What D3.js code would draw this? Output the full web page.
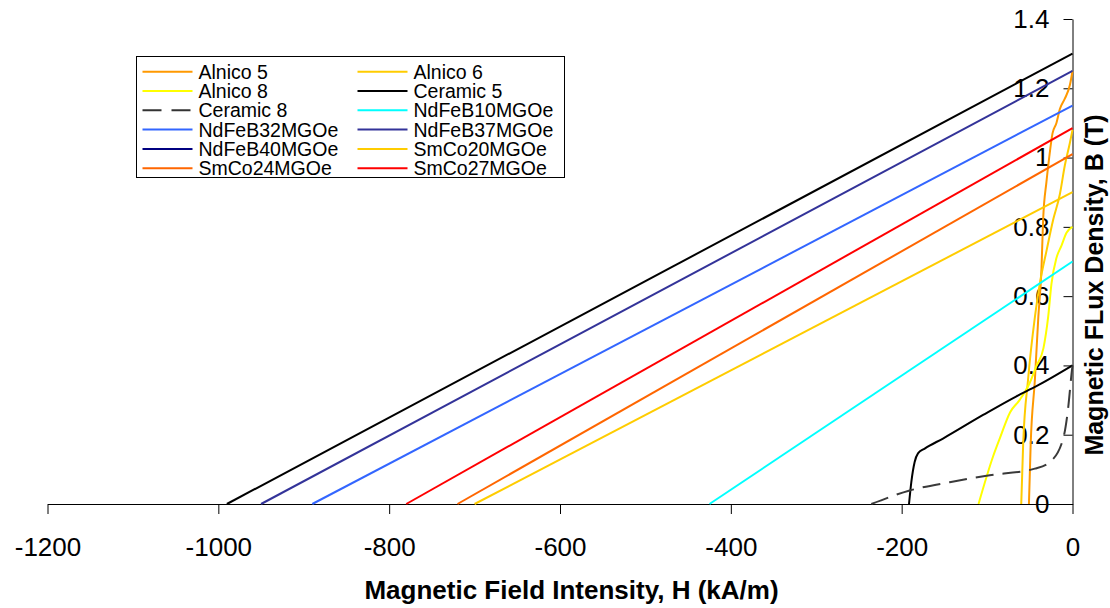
<!DOCTYPE html>
<html>
<head>
<meta charset="utf-8">
<script src="https://cdn.jsdelivr.net/npm/d3@7"></script>
<style>
    body { margin: 0; background: white; }
    svg { display: block; font-family: Arial, "Liberation Sans", sans-serif; }
</style>
</head>
<body>
<svg id="chart" width="1110" height="608"></svg>
<script>
// series names, in legend / drawing order
var seriesNames = ["Alnico 5", "Alnico 6", "Alnico 8", "Ceramic 5", "Ceramic 8", "NdFeB10MGOe",
    "NdFeB32MGOe", "NdFeB37MGOe", "NdFeB40MGOe", "SmCo20MGOe", "SmCo24MGOe", "SmCo27MGOe"];
var legendColors = ["#FF9900", "#FFCC00", "#FFFF00", "#000000", "#333333", "#00FFFF",
    "#3366FF", "#333399", "#000080", "#FFCC00", "#FF6600", "#FF0000"];
var lineColors = ["#FF9900", "#FFCC00", "#FFFF00", "#000000", "#3a3a3a", "#00FFFF",
    "#3366FF", "#333399", "#000000", "#FFCC00", "#FF6600", "#FF0000"];
var dashed = [false, false, false, false, true, false, false, false, false, false, false, false];

// demagnetisation curves, [H (kA/m), B (T)]
var alnico5 = [[-51, 0], [-49, 0.17], [-44, 0.36], [-40, 0.54], [-36.3, 0.68], [-34.4, 0.82], [-30.5, 0.93],
    [-27.3, 1.0], [-23.4, 1.07], [-18.8, 1.1], [-14.8, 1.14], [-9, 1.17], [-3, 1.21], [0, 1.25]];
var alnico6 = [[-60, 0], [-57.8, 0.17], [-52, 0.36], [-44, 0.54], [-38.3, 0.636], [-30.5, 0.73], [-22.7, 0.82],
    [-14.8, 0.894], [-9, 0.977], [-3.1, 1.042], [0, 1.08]];
var alnico8 = [[-110, 0], [-93, 0.137], [-85, 0.19], [-73, 0.265], [-62, 0.3], [-50, 0.35], [-42, 0.4],
    [-34, 0.45], [-28.5, 0.54], [-24.6, 0.636], [-18.8, 0.71], [-12.9, 0.746], [-7, 0.783], [0, 0.8]];
var ceramic5 = [[-191.4, 0], [-188.7, 0.063], [-184.8, 0.121], [-180.9, 0.146], [-173, 0.16], [-151.6, 0.189],
    [-104.7, 0.257], [-65.6, 0.311], [-42.2, 0.34], [0, 0.4]];
var ceramic8 = [[-235.5, 0], [-190.6, 0.039], [-143.8, 0.063], [-96.9, 0.083], [-44.1, 0.102], [-26.6, 0.121],
    [-10.9, 0.189], [-5.1, 0.277], [-1.2, 0.374], [0, 0.4]];
var ndfeb10 = [[-425, 0], [0, 0.7]];
var ndfeb32 = [[-890, 0], [0, 1.15]];
var ndfeb37 = [[-950, 0], [0, 1.25]];
var ndfeb40 = [[-990, 0], [0, 1.3]];
var smco20 = [[-700, 0], [0, 0.9]];
var smco24 = [[-720, 0], [0, 1.01]];
var smco27 = [[-780, 0], [0, 1.085]];

var seriesData = [alnico5, alnico6, alnico8, ceramic5, ceramic8, ndfeb10,
    ndfeb32, ndfeb37, ndfeb40, smco20, smco24, smco27];

var xTicks = [-1200, -1000, -800, -600, -400, -200, 0];
var yTicks = [0, 0.2, 0.4, 0.6, 0.8, 1, 1.2, 1.4];

var svg = d3.select("#chart");

var x = d3.scaleLinear().domain([-1200, 0]).range([47.5, 1072.5]);
var y = d3.scaleLinear().domain([0, 1.4]).range([504, 19]);

// plain hyphen minus like the original, not d3's unicode minus
function plainNum(d) { return String(+d.toFixed(1)); }

// x axis (ticks down, labels below)
var xAxis = svg.append("g")
    .attr("transform", "translate(0,504)")
    .call(d3.axisBottom(x).tickValues(xTicks).tickSize(10).tickSizeOuter(0).tickPadding(24)
        .tickFormat(plainNum));
xAxis.select(".domain").attr("stroke", "#000");
xAxis.selectAll(".tick line").attr("stroke", "#000");
xAxis.selectAll("text").attr("font-size", 26).attr("fill", "#000")
    .attr("font-family", "Arial, 'Liberation Sans', sans-serif");

// y axis sits at H = 0, ticks point left into the plot
var yAxis = svg.append("g")
    .attr("transform", "translate(1072.5,0)")
    .call(d3.axisLeft(y).tickValues(yTicks).tickSize(9).tickSizeOuter(0).tickPadding(14)
        .tickFormat(plainNum));
yAxis.select(".domain").attr("stroke", "#000");
yAxis.selectAll(".tick line").attr("stroke", "#000");
yAxis.selectAll("text").attr("font-size", 26).attr("fill", "#000")
    .attr("font-family", "Arial, 'Liberation Sans', sans-serif");

// the curves (smoothed like excel's scatter lines)
var line = d3.line()
    .curve(d3.curveMonotoneX)
    .x(function (d) { return x(d[0]); })
    .y(function (d) { return y(d[1]); });

svg.append("g").selectAll("path")
    .data(seriesData)
    .enter().append("path")
    .attr("d", line)
    .attr("fill", "none")
    .attr("stroke", function (d, i) { return lineColors[i]; })
    .attr("stroke-width", 2)
    .attr("stroke-dasharray", function (d, i) { return dashed[i] ? "18,9" : null; })
    .attr("stroke-linejoin", "round");

// axis titles
svg.append("text")
    .attr("x", 571.5)
    .attr("y", 599)
    .attr("text-anchor", "middle")
    .attr("font-size", 26)
    .attr("font-weight", "bold")
    .text("Magnetic Field Intensity, H (kA/m)");

svg.append("text")
    .attr("transform", "translate(1103,285) rotate(-90)")
    .attr("text-anchor", "middle")
    .attr("font-size", 25)
    .attr("font-weight", "bold")
    .text("Magnetic FLux Density, B (T)");

// legend, two columns
var legend = svg.append("g");
legend.append("rect")
    .attr("x", 136.5).attr("y", 56.5)
    .attr("width", 428).attr("height", 121)
    .attr("fill", "white").attr("stroke", "#000").attr("stroke-width", 1);

var items = legend.selectAll("g.item")
    .data(seriesNames)
    .enter().append("g")
    .attr("class", "item")
    .attr("transform", function (d, i) {
        return "translate(" + (142.5 + (i % 2) * 215) + "," + (71.7 + Math.floor(i / 2) * 19.3) + ")";
    });

items.append("line")
    .attr("x1", 0).attr("x2", 50)
    .attr("y1", 0).attr("y2", 0)
    .attr("stroke", function (d, i) { return legendColors[i]; })
    .attr("stroke-width", 2)
    .attr("stroke-dasharray", function (d, i) { return dashed[i] ? "19,10" : null; });

items.append("text")
    .attr("x", 56)
    .attr("y", 7)
    .attr("font-size", 19.5)
    .attr("fill", "#000")
    .text(function (d) { return d; });
</script>
</body>
</html>
